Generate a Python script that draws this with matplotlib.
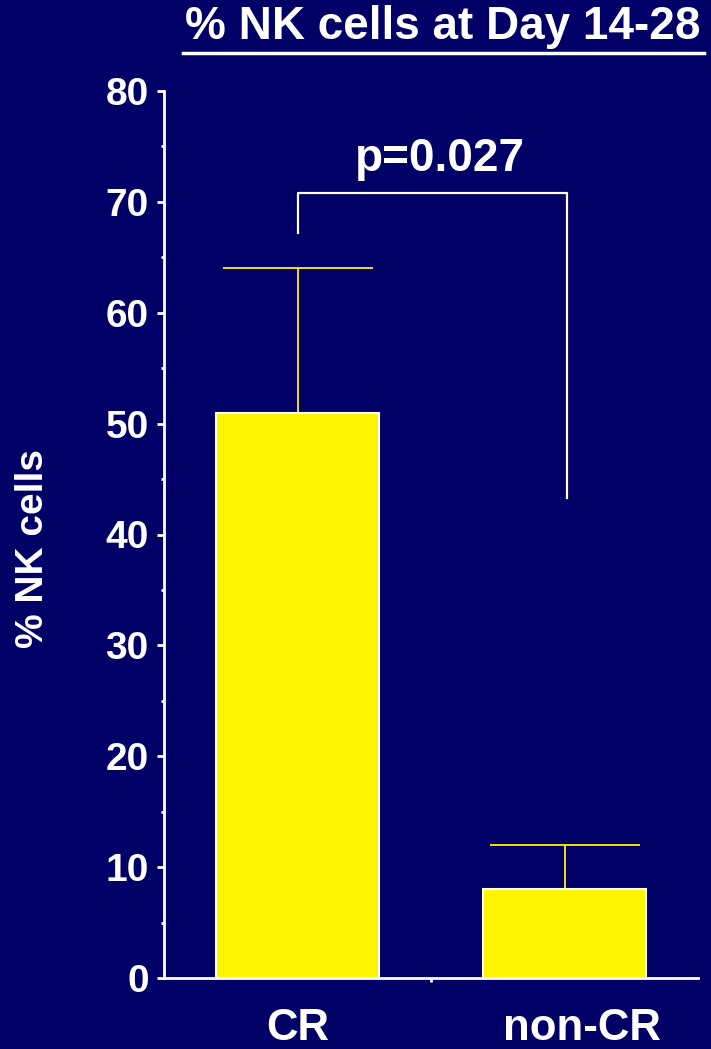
import matplotlib
matplotlib.use("Agg")
import matplotlib.pyplot as plt
from matplotlib.lines import Line2D

# Data
groups = ["CR", "non-CR"]
nk_mean = [51, 8]
nk_err_upper = [13, 4]
p_label = "p=0.027"
bracket_left_y = 67.2
bracket_top_y = 70.8
bracket_right_y = 43.3
y_ticks = [0, 10, 20, 30, 40, 50, 60, 70, 80]

bg = "#000066"
bar_col = "#FFF500"
fg = "white"
plt.rcParams["font.family"] = ["Liberation Sans", "DejaVu Sans"]
plt.rcParams["font.weight"] = "bold"

fig = plt.figure(figsize=(7.11, 10.49), dpi=100, facecolor=bg)
ax = fig.add_axes([164 / 711, 1 - 978 / 1049, (698 - 164) / 711, (978 - 91) / 1049])
ax.set_facecolor(bg)

x = list(range(len(groups)))
ax.bar(x, nk_mean, width=0.607, color=bar_col, edgecolor=fg, linewidth=1.5, zorder=2)
ax.errorbar(x, nk_mean, yerr=[[0] * len(nk_err_upper), nk_err_upper], fmt="none",
            ecolor=bar_col, elinewidth=1.3, capsize=54, capthick=1.3, zorder=1)

ax.set_xlim(-0.5, 1.5)
ax.set_ylim(0, 80)
ax.set_yticks(y_ticks)
ax.set_yticks([v + 5 for v in y_ticks[:-1]], minor=True)
ax.set_xticks([0.5], minor=True)
ax.set_xticks([])
ax.tick_params(axis="y", which="major", colors=fg, length=5, width=2, labelsize=28, pad=6)
ax.tick_params(axis="y", which="minor", colors=fg, length=2.5, width=2)
ax.tick_params(axis="x", which="minor", colors=fg, length=3, width=2, direction="out")
for lbl in ax.get_yticklabels():
    lbl.set_fontweight("bold")

for s in ["top", "right"]:
    ax.spines[s].set_visible(False)
for s in ["left", "bottom"]:
    ax.spines[s].set_color(fg)
    ax.spines[s].set_linewidth(2)

# Category labels below the axis
label_x = [0.0, 1.065]
for lx, g in zip(label_x, groups):
    ax.text(lx, -5.55, g, ha="center", va="baseline", color=fg, fontsize=31.5,
            fontweight="bold", clip_on=False)

# Y-axis title
fig.text(33 / 711, 1 - 549 / 1049, "% NK cells", rotation=90, ha="center", va="center",
         color=fg, fontsize=28, fontweight="bold")

# Significance bracket
ax.add_line(Line2D([x[0], x[0], 1.01, 1.01],
                   [bracket_left_y, bracket_top_y, bracket_top_y, bracket_right_y],
                   color=fg, linewidth=1.6, zorder=3))
ax.text(0.535, 72.8, p_label, ha="center", va="baseline", color=fg, fontsize=33,
        fontweight="bold")

# Underlined title
fig.text(443 / 711, 1 - 39 / 1049, "% NK cells at Day 14-28", ha="center", va="baseline",
         color=fg, fontsize=33, fontweight="bold")
fig.add_artist(Line2D([183 / 711, 704 / 711], [1 - 53 / 1049, 1 - 53 / 1049],
                      color=fg, linewidth=2.5, transform=fig.transFigure))

fig.savefig("out.png", dpi=100, facecolor=bg)
